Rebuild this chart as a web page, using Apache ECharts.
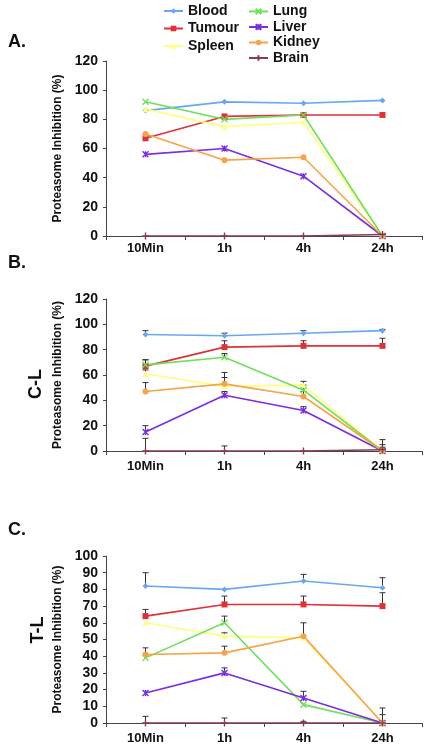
<!DOCTYPE html>
<html><head><meta charset="utf-8">
<script src="https://cdn.jsdelivr.net/npm/echarts@6/dist/echarts.min.js"></script>
<style>html,body{margin:0;padding:0;background:#fff}#c{width:434px;height:750px}</style>
</head><body><div id="c"></div>
<script>
const categories = ['10Min', '1h', '4h', '24h'];
const names = ['Blood', 'Tumour', 'Spleen', 'Lung', 'Liver', 'Kidney', 'Brain'];
const yTicksAB = [0, 20, 40, 60, 80, 100, 120];
const yTicksC = [0, 10, 20, 30, 40, 50, 60, 70, 80, 90, 100];

// Panel A values
const A_Blood  = [86, 92, 91, 93];
const A_Tumour = [67, 82, 83, 83];
const A_Spleen = [87, 75, 78, 0];
const A_Lung   = [92, 80, 83, 0];
const A_Liver  = [56, 60, 41, 0];
const A_Kidney = [70, 52, 54, 0];
const A_Brain  = [0, 0, 0, 1];

// Panel B (C-L) values and upper error
const B_Blood  = [92, 91, 93, 95];
const B_Tumour = [67, 82, 83, 83];
const B_Spleen = [61, 51, 52, 0];
const B_Lung   = [68, 74, 48, 0];
const B_Liver  = [15, 44, 32, 0];
const B_Kidney = [47, 53, 43, 0];
const B_Brain  = [0, 0, 0, 1];
const B_Blood_err  = [3, 2, 2, 1];
const B_Tumour_err = [5, 5, 4, 6];
const B_Spleen_err = [3, 7, 3, 2];
const B_Lung_err   = [4, 3, 4, 3];
const B_Liver_err  = [5, 3, 3, 5];
const B_Kidney_err = [7, 9, 4, 2];
const B_Brain_err  = [10, 4, 0, 8];

// Panel C (T-L) values and upper error
const C_Blood  = [82, 80, 85, 81];
const C_Tumour = [64, 71, 71, 70];
const C_Spleen = [60, 52, 51, 0];
const C_Lung   = [39, 60, 11, 0];
const C_Liver  = [18, 30, 15, 0];
const C_Kidney = [41, 42, 52, 0];
const C_Brain  = [0, 0, 0, 0];
const C_Blood_err  = [8, 0, 4, 6];
const C_Tumour_err = [4, 5, 5, 8];
const C_Spleen_err = [0, 2, 0, 0];
const C_Lung_err   = [0, 4, 0, 5];
const C_Liver_err  = [0, 3, 4, 0];
const C_Kidney_err = [4, 4, 8, 0];
const C_Brain_err  = [4, 3, 1, 9];

const colors = {
  Blood: '#68a8f2', Tumour: '#e03038', Spleen: '#ffff80', Lung: '#6ee05a',
  Liver: '#7a2ee0', Kidney: '#f5a448', Brain: '#8a3c4c'
};
const symbols = {
  Blood: 'diamond', Tumour: 'rect', Spleen: 'triangle',
  Lung: 'path://M0,0L10,10M10,0L0,10',
  Liver: 'path://M0,0L10,10M10,0L0,10M5,0L5,10',
  Kidney: 'circle',
  Brain: 'path://M5,0L5,10M0,5L10,5'
};
const symSize = { Blood: 6, Tumour: 6, Spleen: 6, Lung: 6, Liver: 6, Kidney: 6, Brain: 7 };

const panels = [
  { vals: [A_Blood, A_Tumour, A_Spleen, A_Lung, A_Liver, A_Kidney, A_Brain], errs: null },
  { vals: [B_Blood, B_Tumour, B_Spleen, B_Lung, B_Liver, B_Kidney, B_Brain],
    errs: [B_Blood_err, B_Tumour_err, B_Spleen_err, B_Lung_err, B_Liver_err, B_Kidney_err, B_Brain_err] },
  { vals: [C_Blood, C_Tumour, C_Spleen, C_Lung, C_Liver, C_Kidney, C_Brain],
    errs: [C_Blood_err, C_Tumour_err, C_Spleen_err, C_Lung_err, C_Liver_err, C_Kidney_err, C_Brain_err] }
];

const FF = 'Liberation Sans, Arial, Helvetica, sans-serif';
const grids = [
  { left: 106, right: 12, top: 61, height: 175 },
  { left: 106, right: 12, top: 299, height: 152 },
  { left: 106, right: 12, top: 556, height: 167 }
];
const nameGaps = [39, 35, 34];
const axisLine = { show: true, lineStyle: { color: '#444', width: 1 } };
const xAxes = grids.map((g, i) => ({
  type: 'category', gridIndex: i, data: categories, boundaryGap: true,
  axisLine: axisLine,
  axisTick: { show: true, length: 4, lineStyle: { color: '#444' } },
  axisLabel: { fontSize: 13, fontWeight: 'bold', color: '#111', fontFamily: FF, margin: i === 0 ? 6 : 9 }
}));
const yAxes = grids.map((g, i) => {
  const ticks = i === 2 ? yTicksC : yTicksAB;
  return {
    type: 'value', gridIndex: i, min: ticks[0], max: ticks[ticks.length - 1],
    interval: ticks[1] - ticks[0],
    name: 'Proteasome Inhibition (%)', nameLocation: 'middle', nameGap: nameGaps[i],
    nameTextStyle: { fontSize: 12, fontWeight: 'bold', color: '#111', fontFamily: FF },
    axisLine: axisLine,
    axisTick: { show: true, length: 3, lineStyle: { color: '#444' } },
    splitLine: { show: false },
    axisLabel: { fontSize: 14, fontWeight: 'bold', color: '#111', fontFamily: FF, margin: 8 }
  };
});

const series = [];
panels.forEach((p, pi) => {
  if (p.errs) {
    names.forEach((n, si) => {
      const d = [];
      p.vals[si].forEach((v, ci) => { if (p.errs[si][ci] > 0) d.push([ci, v, p.errs[si][ci]]); });
      series.push({
        type: 'custom', xAxisIndex: pi, yAxisIndex: pi, z: 1, silent: true,
        renderItem: function (params, api) {
          const base = api.coord([api.value(0), api.value(1)]);
          const top = api.coord([api.value(0), api.value(1) + api.value(2)]);
          return { type: 'group', children: [
            { type: 'line', shape: { x1: base[0], y1: base[1], x2: top[0], y2: top[1] }, style: { stroke: '#333', lineWidth: 1 } },
            { type: 'line', shape: { x1: top[0] - 3, y1: top[1], x2: top[0] + 3, y2: top[1] }, style: { stroke: '#333', lineWidth: 1 } }
          ] };
        },
        data: d
      });
    });
  }
  names.forEach((n, si) => {
    const isPath = symbols[n].indexOf('path') === 0;
    series.push({
      name: n, type: 'line', xAxisIndex: pi, yAxisIndex: pi, z: 3,
      data: p.vals[si], symbol: symbols[n], symbolSize: symSize[n], showSymbol: true,
      lineStyle: { color: colors[n], width: 1.6 },
      itemStyle: isPath ? { color: colors[n], borderColor: colors[n], borderWidth: 1.4 } : { color: colors[n] },
      emphasis: { disabled: true }, animation: false
    });
  });
});

const legendText = { fontSize: 14, fontWeight: 'bold', color: '#111', fontFamily: FF, lineHeight: 14 };
const option = {
  animation: false,
  grid: grids,
  xAxis: xAxes,
  yAxis: yAxes,
  legend: [
    { orient: 'vertical', left: 163, top: 4, padding: 0, itemWidth: 19, itemHeight: 7, itemGap: 3.5, data: ['Blood', 'Tumour', 'Spleen'], textStyle: legendText, selectedMode: false },
    { orient: 'vertical', left: 248, top: 4.5, padding: 0, itemWidth: 19, itemHeight: 7, itemGap: 1.5, data: ['Lung', 'Liver', 'Kidney', 'Brain'], textStyle: legendText, selectedMode: false }
  ],
  graphic: [
    { type: 'text', left: 8, top: 33, style: { text: 'A.', font: 'bold 18px ' + FF, fill: '#111' } },
    { type: 'text', left: 8, top: 254, style: { text: 'B.', font: 'bold 18px ' + FF, fill: '#111' } },
    { type: 'text', left: 8, top: 521, style: { text: 'C.', font: 'bold 18px ' + FF, fill: '#111' } },
    { type: 'text', x: 36, y: 384, rotation: Math.PI / 2, style: { text: 'C-L', font: 'bold 18px ' + FF, fill: '#111', align: 'center', verticalAlign: 'middle' } },
    { type: 'text', x: 38.5, y: 630, rotation: Math.PI / 2, style: { text: 'T-L', font: 'bold 18px ' + FF, fill: '#111', align: 'center', verticalAlign: 'middle' } }
  ],
  series: series
};
const chart = echarts.init(document.getElementById('c'), null, { renderer: 'canvas' });
chart.setOption(option);
</script></body></html>
